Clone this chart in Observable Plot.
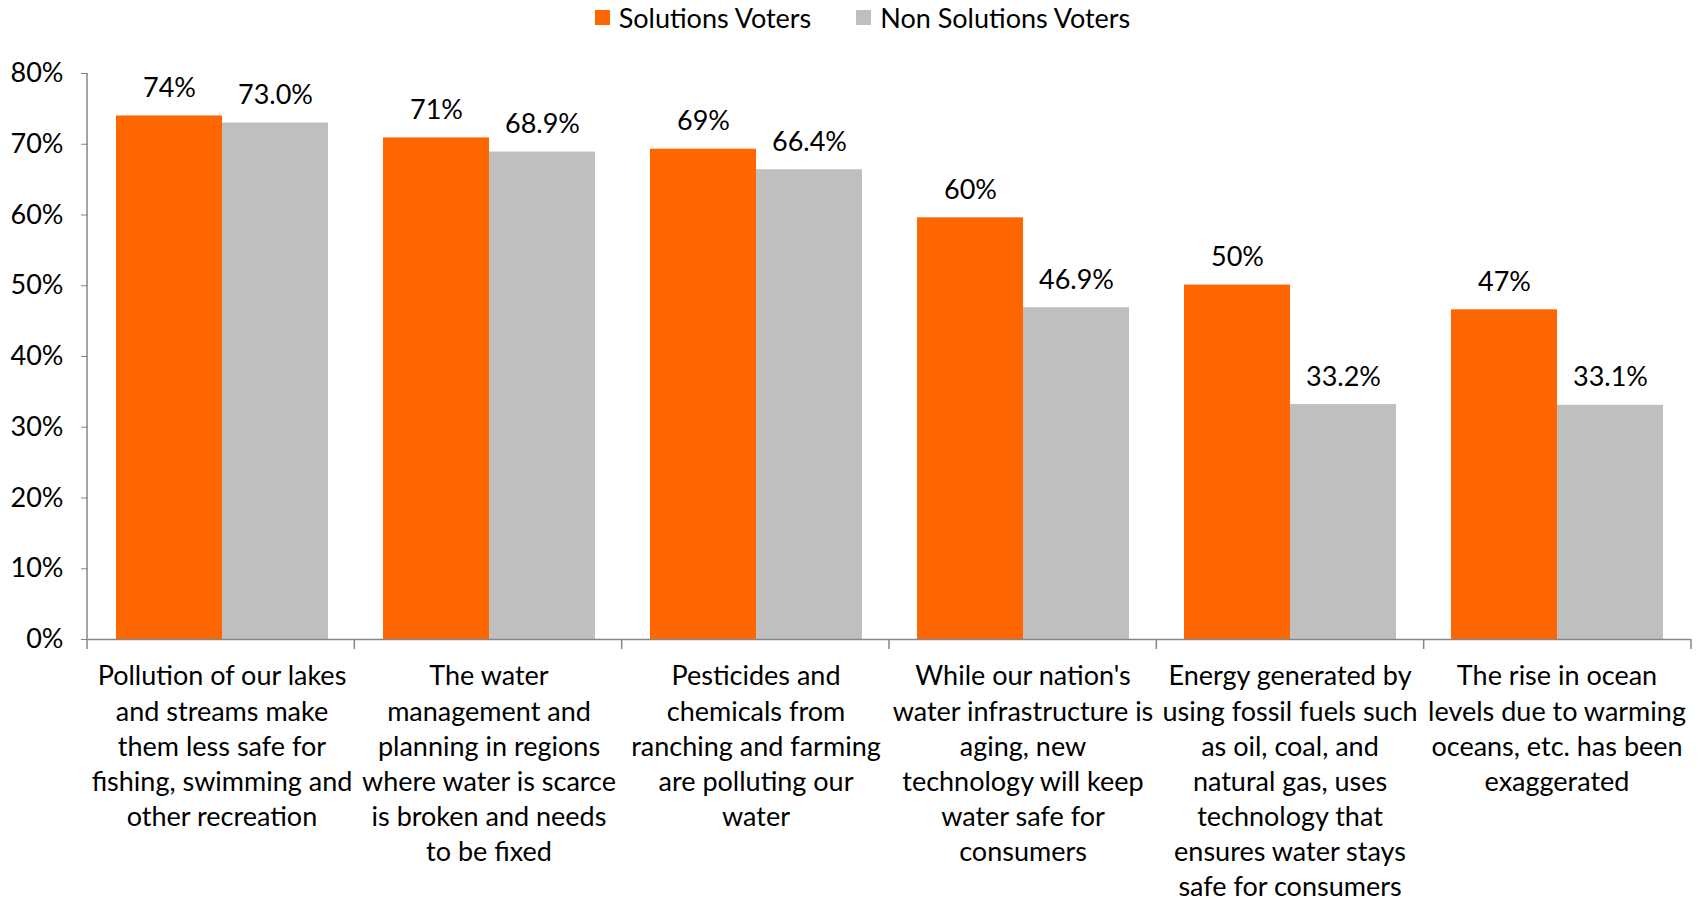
<!DOCTYPE html>
<html>
<head>
<meta charset="utf-8">
<script src="https://cdn.jsdelivr.net/npm/d3@7"></script>
<script src="https://cdn.jsdelivr.net/npm/@observablehq/plot@0.6"></script>
<style>
  html, body { margin: 0; padding: 0; background: #fff; }
  body { font-family: Lato, "Open Sans", sans-serif; color: #000; width: 1705px; }
  #legend { height: 34px; display: flex; align-items: center; justify-content: center; padding-left: 20px; font-size: 27px; }
  .item { display: flex; align-items: center; }
  .item + .item { margin-left: 45px; }
  .swatch { width: 15px; height: 15px; margin-right: 9px; }
  svg { display: block; }
</style>
</head>
<body>
<div id="legend"></div>
<div id="chart"></div>
<script>
const categories = [
  "Pollution of our lakes and streams make them less safe for fishing, swimming and other recreation",
  "The water management and planning in regions where water is scarce is broken and needs to be fixed",
  "Pesticides and chemicals from ranching and farming are polluting our water",
  "While our nation's water infrastructure is aging, new technology will keep water safe for consumers",
  "Energy generated by using fossil fuels such as oil, coal, and natural gas, uses technology that ensures water stays safe for consumers",
  "The rise in ocean levels due to warming oceans, etc. has been exaggerated"
];
const categoryLines = [
  ["Pollution of our lakes", "and streams make", "them less safe for", "fishing, swimming and", "other recreation"],
  ["The water", "management and", "planning in regions", "where water is scarce", "is broken and needs", "to be fixed"],
  ["Pesticides and", "chemicals from", "ranching and farming", "are polluting our", "water"],
  ["While our nation's", "water infrastructure is", "aging, new", "technology will keep", "water safe for", "consumers"],
  ["Energy generated by", "using fossil fuels such", "as oil, coal, and", "natural gas, uses", "technology that", "ensures water stays", "safe for consumers"],
  ["The rise in ocean", "levels due to warming", "oceans, etc. has been", "exaggerated"]
];
const seriesNames = ["Solutions Voters", "Non Solutions Voters"];
const solutionsValues = [0.740, 0.709, 0.693, 0.596, 0.501, 0.466];
const nonSolutionsValues = [0.730, 0.689, 0.664, 0.469, 0.332, 0.331];
const yTicks = [0, 0.1, 0.2, 0.3, 0.4, 0.5, 0.6, 0.7, 0.8];
const seriesColors = ["#FF6600", "#BFBFBF"];

const fmtWhole = d3.format(".0%");
const fmtOne = d3.format(".1%");

const data = [];
categories.forEach((c, i) => {
  data.push({category: c, series: seriesNames[0], value: solutionsValues[i], label: fmtWhole(solutionsValues[i])});
  data.push({category: c, series: seriesNames[1], value: nonSolutionsValues[i], label: fmtOne(nonSolutionsValues[i])});
});
const lineMap = new Map(categories.map((c, i) => [c, categoryLines[i].join("\n")]));

// Legend
const legend = d3.select("#legend");
seriesNames.forEach((s, i) => {
  const it = legend.append("div").attr("class", "item");
  it.append("div").attr("class", "swatch").style("background", seriesColors[i]);
  it.append("span").text(s);
});

const axisColor = "#868686";

const plot = Plot.plot({
  width: 1705,
  height: 870,
  marginTop: 39,
  marginBottom: 265,
  marginLeft: 87,
  marginRight: 14,
  style: {fontFamily: "Lato, 'Open Sans', sans-serif", fontSize: "27px", color: "#000", background: "#fff"},
  fx: {domain: categories, padding: 0, label: null},
  x: {domain: seriesNames, paddingInner: 0, paddingOuter: 0.2545, axis: null},
  y: {domain: [0, 0.8], label: null},
  color: {domain: seriesNames, range: seriesColors},
  marks: [
    Plot.barY(data, {fx: "category", x: "series", y: "value", fill: "series"}),
    Plot.ruleY([0], {stroke: axisColor, strokeWidth: 1.5}),
    Plot.text(data, {fx: "category", x: "series", y: "value", text: "label", lineAnchor: "bottom", dy: -19, fill: "#000"}),
    Plot.axisY({ticks: yTicks, tickFormat: fmtWhole, tickSize: 7, tickPadding: 18, stroke: axisColor, fill: "#000", label: null}),
    Plot.axisFx({anchor: "bottom", tickSize: 0, tickPadding: 21, tickFormat: d => lineMap.get(d), lineHeight: 1.3, fill: "#000", label: null})
  ]
});
document.getElementById("chart").appendChild(plot);

// Axis line and category separator ticks, placed with the plot's scales
const svg = d3.select(plot);
const ys = plot.scale("y");
const fxs = plot.scale("fx");
const yTop = ys.apply(0.8), yBase = ys.apply(0);
const step = (fxs.range[1] - fxs.range[0]) / categories.length;
const xLeft = fxs.range[0];
svg.append("line").attr("x1", xLeft).attr("x2", xLeft).attr("y1", yTop).attr("y2", yBase + 10)
  .attr("stroke", axisColor).attr("stroke-width", 1.5);
for (let i = 1; i <= categories.length; i++) {
  const x = xLeft + i * step;
  svg.append("line").attr("x1", x).attr("x2", x).attr("y1", yBase).attr("y2", yBase + 10)
    .attr("stroke", axisColor).attr("stroke-width", 1.5);
}
</script>
</body>
</html>
